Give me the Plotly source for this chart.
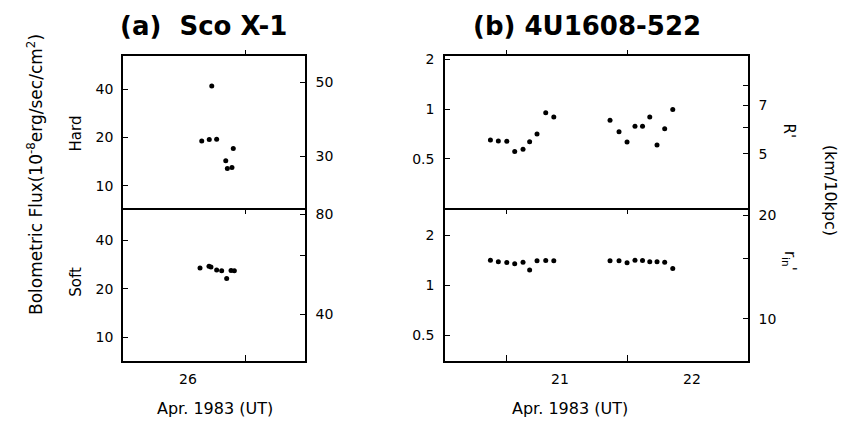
import plotly.graph_objects as go

W, H = 841, 421

# ---------------- data ----------------
# (a) Sco X-1, April 1983 (UT day)
hard_day = [26.104, 26.161, 26.180, 26.217, 26.286, 26.298, 26.333, 26.343]
hard_flux = [19.0, 19.4, 41.7, 19.5, 14.3, 12.8, 13.0, 17.1]
soft_day = [26.091, 26.159, 26.174, 26.217, 26.255, 26.293, 26.326, 26.351]
soft_flux = [26.9, 27.6, 27.3, 26.1, 25.8, 23.1, 25.9, 25.8]

# (b) 4U1608-522, April 1983 (UT day)
b_day = [20.473, 20.533, 20.597, 20.657, 20.720, 20.770, 20.826, 20.892, 20.953,
         21.379, 21.447, 21.508, 21.568, 21.625, 21.680, 21.735, 21.793, 21.854]
b_top = [0.650, 0.641, 0.639, 0.553, 0.572, 0.635, 0.707, 0.950, 0.895,
         0.855, 0.730, 0.633, 0.787, 0.787, 0.895, 0.607, 0.761, 0.996]
b_bot = [1.414, 1.384, 1.371, 1.346, 1.376, 1.233, 1.403, 1.409, 1.403,
         1.403, 1.403, 1.365, 1.414, 1.409, 1.384, 1.384, 1.376, 1.262]

# tick labels / tick positions
a_left_ticks = [10, 20, 40]
a_hard_right_ticks = [30, 50]
a_soft_right_ticks = [40, 80]
a_soft_right_minor = [60]
b_left_ticks = [0.5, 1, 2]
b_left_text = ["0.5", "1", "2"]
b_top_right_ticks = [5, 7]
b_top_right_minor = [6, 8]
b_bot_right_ticks = [10, 20]
b_bot_right_minor = [15]
a_xtick = [26.432]
b_xtick = [20.598, 21.515]
a_xlabels = [26]
b_xlabels = [21, 22]

# ---------------- layout helpers ----------------
def px_x(p):
    return p / W

def px_y(p):
    return 1 - p / H

FONT = "DejaVu Sans"
LW = 1.5
dom_ax = [px_x(123), px_x(305)]
dom_bx = [px_x(445), px_x(748)]
dom_top = [px_y(205), px_y(52)]
dom_bot = [px_y(360), px_y(205)]

fig = go.Figure()
mk = dict(color="black", size=5)
fig.add_trace(go.Scatter(x=hard_day, y=hard_flux, mode="markers", marker=mk, xaxis="x", yaxis="y"))
fig.add_trace(go.Scatter(x=soft_day, y=soft_flux, mode="markers", marker=mk, xaxis="x2", yaxis="y2"))
fig.add_trace(go.Scatter(x=b_day, y=b_top, mode="markers", marker=mk, xaxis="x3", yaxis="y3"))
fig.add_trace(go.Scatter(x=b_day, y=b_bot, mode="markers", marker=mk, xaxis="x4", yaxis="y4"))
# empty traces so that the right-hand (secondary) axes get drawn
for xa, ya in [("x", "y5"), ("x2", "y6"), ("x3", "y7"), ("x4", "y8")]:
    fig.add_trace(go.Scatter(x=[], y=[], mode="markers", xaxis=xa, yaxis=ya, hoverinfo="skip"))

tickfont = dict(family=FONT, size=14, color="black")
common = dict(showline=True, linecolor="black", linewidth=LW,
              tickcolor="black", showgrid=False, zeroline=False, tickfont=tickfont)

def xax_top(dom, rng, tv, anchor):
    # top panel: box with ticks crossing the top and the shared middle line
    return dict(domain=dom, range=rng, tickvals=tv, showticklabels=False,
                mirror="ticks", ticks="outside", ticklen=5, anchor=anchor, **common)

def xax_bot(dom, rng, tv, anchor):
    return dict(domain=dom, range=rng, tickvals=tv, showticklabels=False,
                mirror=False, ticks="inside", ticklen=6, anchor=anchor, **common)

def yax(dom, rng, tv, tt, anchor, standoff=4):
    return dict(domain=dom, type="log", range=rng, tickvals=tv, ticktext=tt,
                mirror=True, anchor=anchor, ticks="inside", ticklabelstandoff=standoff,
                ticklen=5, **common)

def yax_r(rng, tv, over, anchor, minor=None):
    d = dict(type="log", range=rng, tickvals=tv, ticktext=[str(v) for v in tv],
             overlaying=over, side="right", anchor=anchor, ticks="inside",
             ticklabelstandoff=6, ticklen=5, **common)
    if minor:
        d["minor"] = dict(tickvals=minor, ticks="inside", ticklen=5, tickcolor="black",
                          showgrid=False)
    return d

a_xrange = [25.508, 26.886]
b_xrange = [20.129, 22.424]

fig.update_layout(
    width=W, height=H, margin=dict(l=0, r=0, t=0, b=0),
    paper_bgcolor="white", plot_bgcolor="white", showlegend=False,
    font=dict(family=FONT, color="black"),
    xaxis=xax_top(dom_ax, a_xrange, a_xtick, "y"),
    xaxis2=xax_bot(dom_ax, a_xrange, a_xtick, "y2"),
    xaxis3=xax_top(dom_bx, b_xrange, b_xtick, "y3"),
    xaxis4=xax_bot(dom_bx, b_xrange, b_xtick, "y4"),
    yaxis=yax(dom_top, [0.865, 1.805], a_left_ticks, [str(v) for v in a_left_ticks], "x", 5),
    yaxis2=yax(dom_bot, [0.853, 1.805], a_left_ticks, [str(v) for v in a_left_ticks], "x2", 5),
    yaxis3=yax(dom_top, [-0.596, 0.319], b_left_ticks, b_left_text, "x3", 6),
    yaxis4=yax(dom_bot, [-0.456, 0.468], b_left_ticks, b_left_text, "x4", 6),
    yaxis5=yax_r([1.324, 1.777], a_hard_right_ticks, "y", "x"),
    yaxis6=yax_r([1.462, 1.924], a_soft_right_ticks, "y2", "x2", a_soft_right_minor),
    yaxis7=yax_r([0.538, 0.991], b_top_right_ticks, "y3", "x3", b_top_right_minor),
    yaxis8=yax_r([0.878, 1.324], b_bot_right_ticks, "y4", "x4", b_bot_right_minor),
)

# x tick labels (offset from the tick marks, as in the original)
for d in a_xlabels:
    fig.add_annotation(x=d, xref="x2", y=px_y(378), yref="paper", text=str(d),
                       xanchor="center", yanchor="middle",
                       showarrow=False, font=dict(family=FONT, size=14))
for d in b_xlabels:
    fig.add_annotation(x=d, xref="x4", y=px_y(378), yref="paper", text=str(d),
                       xanchor="center", yanchor="middle",
                       showarrow=False, font=dict(family=FONT, size=14))

def ann(text, x, y, size=14, angle=0, bold=False):
    fig.add_annotation(x=px_x(x), y=px_y(y), xref="paper", yref="paper", text=text,
                       showarrow=False, textangle=angle, xanchor="center", yanchor="middle",
                       font=dict(family=FONT, size=size, color="black",
                                 weight="bold" if bold else "normal"))

ann("(a)  Sco X-1", 203, 21, size=26, bold=True)
ann("(b) 4U1608-522", 587, 21, size=26, bold=True)
ann("Bolometric Flux(10<sup>-8</sup>erg/sec/cm<sup>2</sup>)", 35, 172, size=17, angle=-90)
ann("Hard", 76, 130, size=15, angle=-90)
ann("Soft", 76, 280, size=15, angle=-90)
ann("R'", 789, 127, size=15, angle=90)
ann("r<sub>in</sub>'", 789, 259, size=15, angle=90)
ann("(km/10kpc)", 830, 187, size=16, angle=90)
ann("Apr. 1983 (UT)", 215, 408, size=16)
ann("Apr. 1983 (UT)", 570, 408, size=16)

fig.write_html("out.html", config={"displayModeBar": False},
               post_script="document.body.style.margin='0px';")
